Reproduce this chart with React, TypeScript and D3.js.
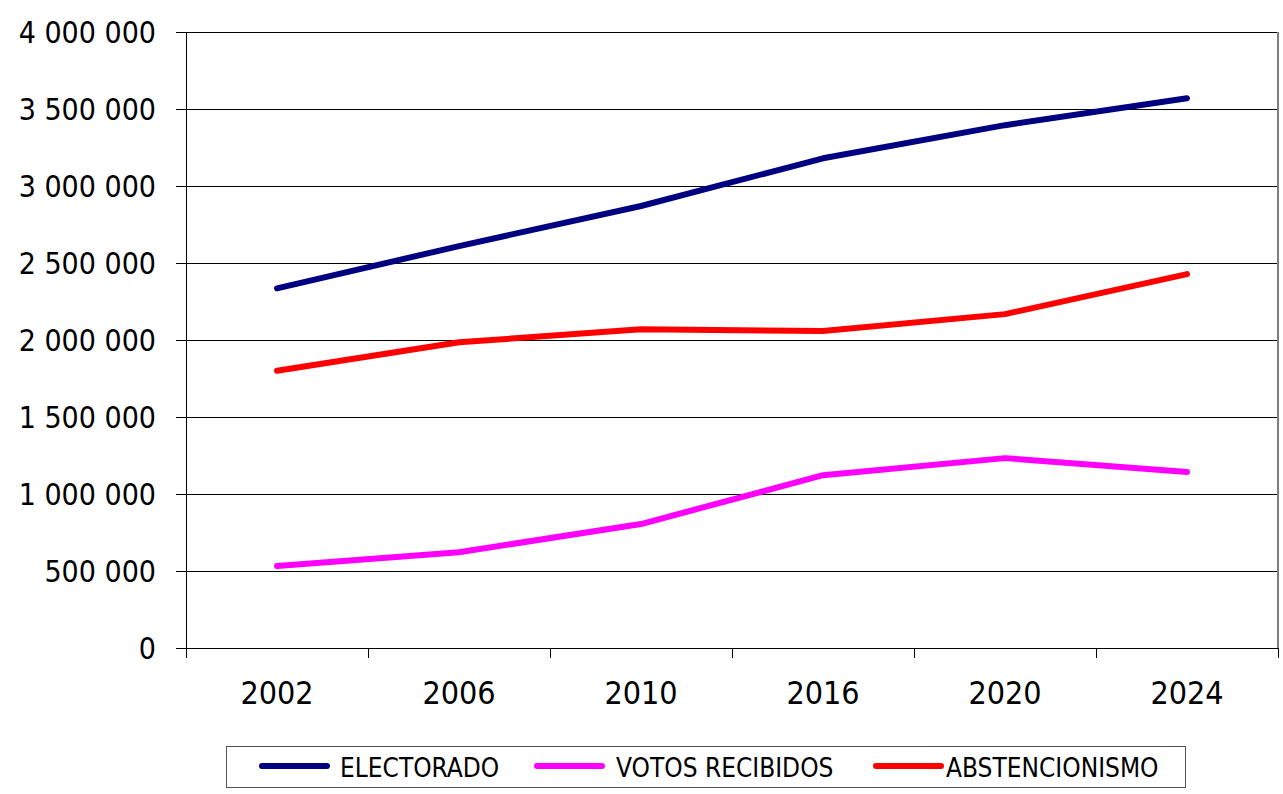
import React from "react";
import * as d3 from "d3";

const years = ["2002", "2006", "2010", "2016", "2020", "2024"];
const electorado = [2335000, 2610000, 2870000, 3180000, 3395000, 3570000];
const votosRecibidos = [532000, 622000, 805000, 1122000, 1233000, 1143000];
const abstencionismo = [1800000, 1985000, 2070000, 2058000, 2168000, 2428000];
const yTicks = [0, 500000, 1000000, 1500000, 2000000, 2500000, 3000000, 3500000, 4000000];

const series = [
  { name: "ELECTORADO", values: electorado, color: "#000080" },
  { name: "VOTOS RECIBIDOS", values: votosRecibidos, color: "#FF00FF" },
  { name: "ABSTENCIONISMO", values: abstencionismo, color: "#FF0000" },
];

const FONT = "'DejaVu Sans Condensed', 'DejaVu Sans', sans-serif";

export default function App() {
  const W = 1283, H = 794;
  const left = 186, right = 1278, top = 32, bottom = 648;
  const x = d3.scaleBand<string>().domain(years).range([left, right]).padding(0);
  const y = d3.scaleLinear().domain([0, 4000000]).range([bottom, top]);
  const fmt = (v: number) => d3.format(",")(v).replace(/,/g, " ");
  const line = d3
    .line<number>()
    .x((_, i) => (x(years[i]) as number) + x.bandwidth() / 2)
    .y((v) => y(v));

  const legendItems = [
    { lx: 262, tx: 340 },
    { lx: 537, tx: 616 },
    { lx: 876, tx: 946 },
  ];

  const boundaries = years.map((yr) => x(yr) as number).concat([right]);

  return (
    <svg width={W} height={H} style={{ position: "absolute", left: 0, top: 0, background: "#fff" }}>
      {yTicks.map((t) => (
        <line key={"g" + t} x1={left - 10} x2={right} y1={y(t)} y2={y(t)} stroke="#000" strokeWidth={1} shapeRendering="crispEdges" />
      ))}
      <line x1={right} x2={right} y1={top} y2={bottom} stroke="#808080" strokeWidth={1.5} shapeRendering="crispEdges" />
      <line x1={left} x2={left} y1={top} y2={bottom + 10} stroke="#000" strokeWidth={1} shapeRendering="crispEdges" />
      {boundaries.map((b, i) => (
        <line key={"xt" + i} x1={b} x2={b} y1={bottom} y2={bottom + 10} stroke="#000" strokeWidth={1} shapeRendering="crispEdges" />
      ))}
      {yTicks.map((t) => (
        <text key={"yl" + t} x={156} y={y(t)} dy="0.36em" textAnchor="end" fontFamily={FONT} fontSize={30} fill="#000">
          {fmt(t)}
        </text>
      ))}
      {years.map((yr) => (
        <text key={"xl" + yr} x={(x(yr) as number) + x.bandwidth() / 2} y={704} textAnchor="middle" fontFamily={FONT} fontSize={32} fill="#000">
          {yr}
        </text>
      ))}
      {series.map((s) => (
        <path key={s.name} d={line(s.values) || ""} fill="none" stroke={s.color} strokeWidth={6} strokeLinecap="round" strokeLinejoin="round" />
      ))}
      <rect x={226} y={746} width={959} height={41} fill="#fff" stroke="#555" strokeWidth={1} shapeRendering="crispEdges" />
      {series.map((s, i) => (
        <g key={"lg" + s.name}>
          <line x1={legendItems[i].lx} x2={legendItems[i].lx + 65} y1={766} y2={766} stroke={s.color} strokeWidth={6} strokeLinecap="round" />
          <text x={legendItems[i].tx} y={777} fontFamily={FONT} fontSize={26} fill="#000">
            {s.name}
          </text>
        </g>
      ))}
    </svg>
  );
}
